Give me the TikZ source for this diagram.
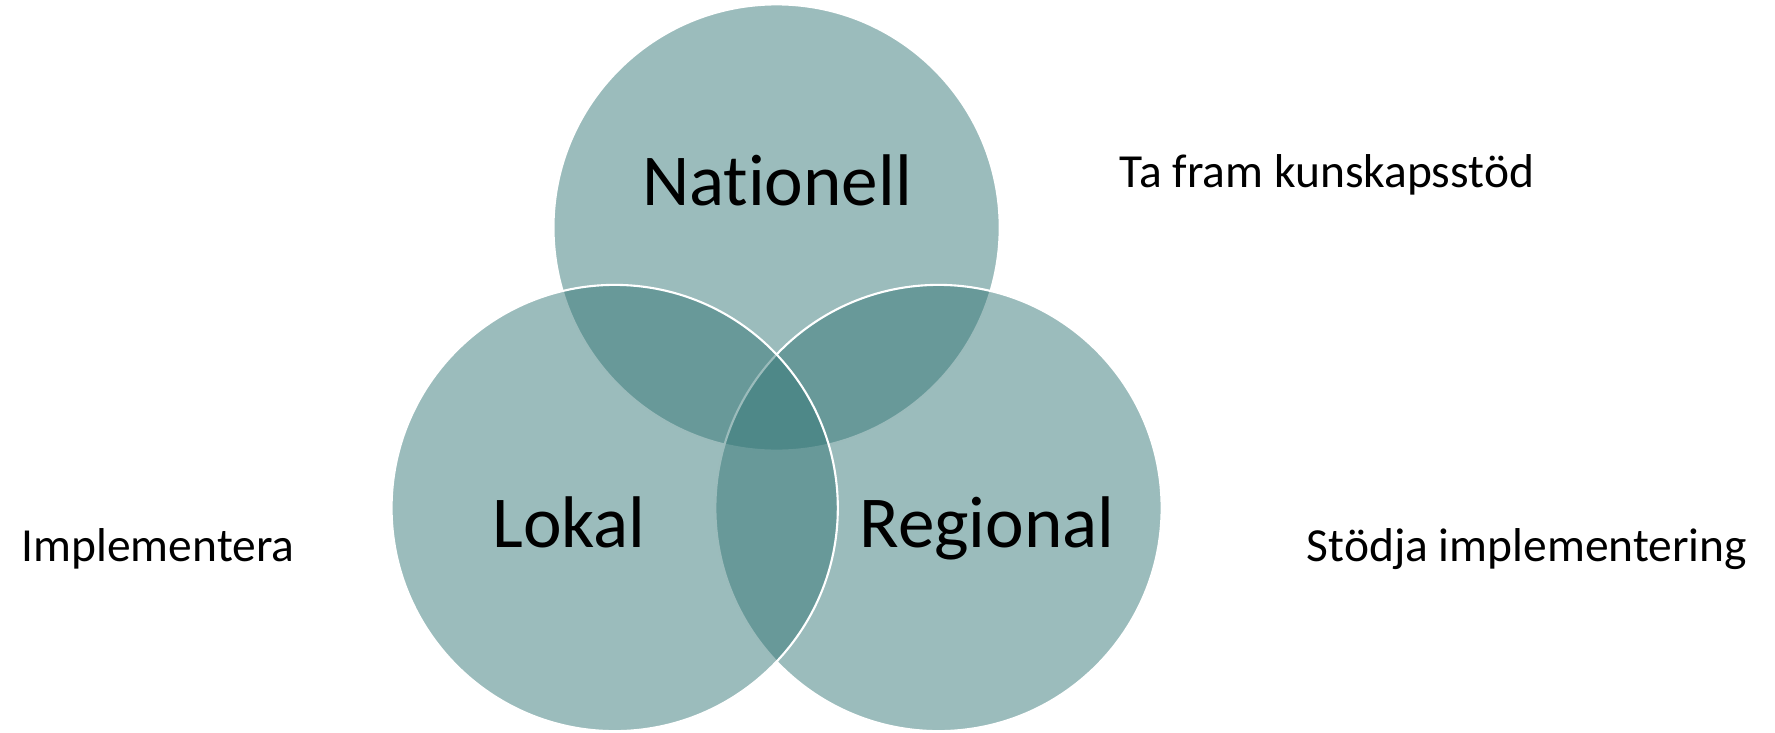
\documentclass[tikz,border=0pt]{standalone}
\usepackage{fontspec}
\setmainfont{Carlito}[Ligatures=NoCommon]
\usepackage{xcolor}
\usepackage{tikz}

\definecolor{venncol}{RGB}{51,118,118}
\tikzset{
  venn/.style={circle, minimum size=4.46cm, inner sep=0pt, outer sep=0pt,
    fill=venncol, fill opacity=0.49, draw=white, line width=0.6pt},
  big/.style={anchor=base, inner sep=0pt, font=\fontsize{20.8}{24}\selectfont},
  small/.style={anchor=base, inner sep=0pt, font=\fontsize{13.5}{16}\selectfont}
}

\begin{document}
\begin{tikzpicture}[x=0.01cm, y=0.01cm]
            \useasboundingbox (0,0) rectangle (1775,732);
            \node [venn] (nat) at (776.6,504.5) {};
            \node [venn] (reg) at (938.5,224) {};
            \node [venn] (lok) at (614.7,224) {};
            \node [big] (natlabel) at (777,527) {Nationell};
            \node [big] (loklabel) at (569,185) {Lokal};
            \node [big] (reglabel) at (987,185) {Regional};
            \node [small] (nattext) at (1327,545) {Ta fram kunskapsstöd};
            \node [small] (loktext) at (158,171) {Implementera};
            \node [small] (regtext) at (1527,171) {Stödja implementering};
        \end{tikzpicture}
\end{document}
